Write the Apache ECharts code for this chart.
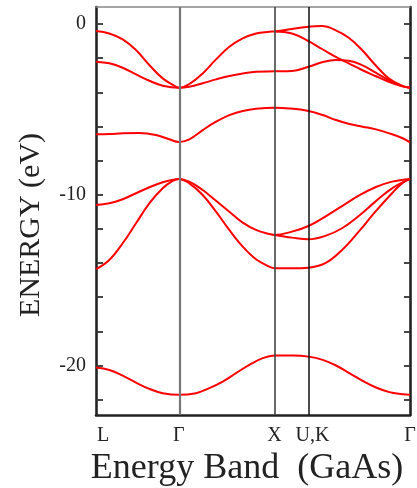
<!DOCTYPE html>
<html>
<head>
<meta charset="utf-8">
<script src="https://cdn.jsdelivr.net/npm/echarts@6.0.0/dist/echarts.min.js"></script>
<style>
html,body{margin:0;padding:0;background:#fff;}
#chart{width:417px;height:488px;}
</style>
</head>
<body>
<div id="chart"></div>
<script>
// k-path positions of high-symmetry points (L, Γ, X, U/K, Γ)
const kTicks = [0, 0.866, 1.866, 2.220, 3.281];
const kTickLabels = ['L', 'Γ', 'X', 'U,K', 'Γ'];
const kGuides = [0.866, 1.866, 2.220];

// energy axis
const yTickValues = [0, -2, -4, -6, -8, -10, -12, -14, -16, -18, -20, -22];
const yLabelValues = [0, -10, -20];

// bands: [k, energy eV]
const bandTopA = [[0,-0.41],[0.139,-0.55],[0.279,-0.90],[0.418,-1.52],[0.557,-2.40],[0.697,-3.18],[0.836,-3.67],[0.866,-3.73],
  [0.975,-3.51],[1.115,-2.89],[1.254,-2.07],[1.393,-1.33],[1.533,-0.84],[1.672,-0.55],[1.811,-0.45],[1.866,-0.43],
  [2.048,-0.29],[2.220,-0.15],[2.362,-0.12],[2.501,-0.35],[2.641,-0.80],[2.780,-1.52],[2.919,-2.40],[3.058,-3.18],[3.197,-3.61],[3.281,-3.73]];
const bandTopB = [[0,-2.20],[0.139,-2.30],[0.279,-2.56],[0.418,-2.95],[0.557,-3.32],[0.697,-3.61],[0.866,-3.73],
  [0.975,-3.67],[1.115,-3.47],[1.254,-3.24],[1.393,-3.04],[1.533,-2.89],[1.672,-2.79],[1.866,-2.77],
  [2.048,-2.75],[2.220,-2.50],[2.362,-2.24],[2.501,-2.11],[2.641,-2.15],[2.780,-2.40],[2.919,-2.83],[3.058,-3.28],[3.197,-3.62],[3.281,-3.73]];
const bandTopC = [[1.866,-0.43],[2.048,-0.55],[2.220,-1.00],[2.362,-1.46],[2.501,-1.91],[2.641,-2.30],[2.780,-2.69],[2.919,-3.04],[3.058,-3.38],[3.197,-3.65],[3.281,-3.73]];
const bandMid = [[0,-6.46],[0.139,-6.44],[0.279,-6.40],[0.452,-6.38],[0.627,-6.50],[0.766,-6.75],[0.866,-6.91],[0.975,-6.75],[1.115,-6.21],[1.254,-5.72],[1.393,-5.33],[1.533,-5.09],[1.672,-4.96],[1.866,-4.90],
  [2.020,-4.94],[2.220,-5.09],[2.369,-5.33],[2.508,-5.62],[2.647,-5.85],[2.787,-6.01],[2.926,-6.17],[3.065,-6.40],[3.205,-6.69],[3.281,-6.93]];
const bandLowA = [[0,-10.60],[0.139,-10.50],[0.279,-10.26],[0.418,-9.91],[0.557,-9.56],[0.697,-9.27],[0.801,-9.12],[0.866,-9.07],
  [0.975,-9.23],[1.115,-9.72],[1.254,-10.35],[1.393,-10.99],[1.533,-11.63],[1.672,-12.06],[1.811,-12.30],[1.866,-12.35],
  [2.048,-12.16],[2.220,-11.83],[2.396,-11.28],[2.571,-10.66],[2.745,-10.05],[2.919,-9.56],[3.093,-9.23],[3.281,-9.07]];
const bandLowB = [[1.866,-12.35],[2.048,-12.51],[2.220,-12.61],[2.396,-12.41],[2.571,-11.96],[2.745,-11.24],[2.919,-10.40],[3.093,-9.62],[3.281,-9.07]];
const bandLowC = [[0,-14.36],[0.139,-13.82],[0.279,-12.84],[0.418,-11.67],[0.557,-10.50],[0.697,-9.62],[0.801,-9.19],[0.866,-9.07],
  [0.975,-9.33],[1.115,-10.01],[1.254,-10.99],[1.393,-12.06],[1.533,-13.04],[1.672,-13.78],[1.811,-14.21],[1.866,-14.30],
  [2.048,-14.30],[2.220,-14.27],[2.396,-14.01],[2.571,-13.23],[2.745,-12.16],[2.919,-10.99],[3.093,-9.91],[3.197,-9.33],[3.281,-9.07]];
const bandBottom = [[0,-20.12],[0.139,-20.26],[0.279,-20.59],[0.418,-21.00],[0.557,-21.37],[0.697,-21.62],[0.866,-21.72],[1.045,-21.62],[1.184,-21.33],[1.324,-20.94],[1.463,-20.45],[1.602,-19.96],[1.742,-19.57],[1.866,-19.42],
  [2.055,-19.42],[2.220,-19.48],[2.369,-19.67],[2.508,-20.00],[2.647,-20.45],[2.787,-20.90],[2.926,-21.29],[3.065,-21.56],[3.205,-21.68],[3.281,-21.72]];

const bands = [bandTopA, bandTopB, bandTopC, bandMid, bandLowA, bandLowB, bandLowC, bandBottom];

const serif = 'Liberation Serif';
const chart = echarts.init(document.getElementById('chart'), null, {renderer: 'canvas'});

const bandSeries = bands.map(function (d, i) {
  return {
    type: 'line', name: 'band' + i, data: d, smooth: 0.4, symbol: 'none', z: 3,
    lineStyle: {color: '#ff0000', width: 2}, silent: true
  };
});

const guideStyles = [
  {color: '#777', width: 2.2},
  {color: '#444', width: 1.6},
  {color: '#111', width: 1.5}
];

const option = {
  animation: false,
  backgroundColor: '#fff',
  grid: {left: 96, right: 7, top: 7, bottom: 73, containLabel: false, outerBoundsMode: 'none'},
  xAxis: [{
    type: 'value', min: 0, max: kTicks[kTicks.length - 1], position: 'bottom',
    axisLine: {show: true, onZero: false, lineStyle: {color: '#222', width: 2.6}},
    axisTick: {show: false},
    splitLine: {show: false},
    axisLabel: {
      customValues: kTicks,
      margin: 11,
      fontFamily: serif, fontSize: 20, color: '#222',
      formatter: function (v) {
        for (let i = 0; i < kTicks.length; i++) {
          if (Math.abs(v - kTicks[i]) < 1e-6) {
            if (i === 0) return '{l|' + kTickLabels[i] + '}';
            if (i === 3) return '{u|' + kTickLabels[i] + '}';
            return kTickLabels[i];
          }
        }
        return '';
      },
      rich: {
        l: {fontFamily: serif, fontSize: 20, color: '#222', padding: [0, 0, 0, 14]},
        u: {fontFamily: serif, fontSize: 20, color: '#222', padding: [0, 0, 0, 8]}
      }
    },
    name: 'Energy Band  (GaAs)', nameLocation: 'middle', nameGap: 30,
    nameTextStyle: {fontFamily: serif, fontSize: 36, color: '#222', padding: [0, 12, 0, 0]}
  }, {
    type: 'value', min: 0, max: kTicks[kTicks.length - 1], position: 'top',
    axisLine: {show: true, onZero: false, lineStyle: {color: '#888', width: 1.5}},
    axisTick: {show: false}, axisLabel: {show: false}, splitLine: {show: false}
  }],
  yAxis: [{
    type: 'value', min: -22.9, max: 1.0, position: 'left',
    axisLine: {show: true, onZero: false, lineStyle: {color: '#222', width: 2.6}},
    axisTick: {show: true, inside: true, length: 7, customValues: yTickValues, lineStyle: {color: '#333', width: 1.8}},
    axisLabel: {customValues: yLabelValues, margin: 10, fontFamily: serif, fontSize: 20, color: '#222'},
    splitLine: {show: false},
    name: 'ENERGY (eV)', nameLocation: 'middle', nameGap: 50,
    nameTextStyle: {fontFamily: serif, fontSize: 30, color: '#222', padding: [0, 28, 0, 0]}
  }, {
    type: 'value', min: -22.9, max: 1.0, position: 'right',
    axisLine: {show: true, onZero: false, lineStyle: {color: '#222', width: 2.6}},
    axisTick: {show: true, inside: true, length: 6, customValues: yTickValues, lineStyle: {color: '#333', width: 1.8}},
    axisLabel: {show: false}, splitLine: {show: false}
  }],
  series: [{
    type: 'line', name: 'guides', data: [], z: 1, silent: true,
    markLine: {
      silent: true, symbol: ['none', 'none'], label: {show: false},
      data: kGuides.map(function (k, i) { return {xAxis: k, lineStyle: {color: guideStyles[i].color, width: guideStyles[i].width, type: 'solid'}}; })
    }
  }].concat(bandSeries)
};
chart.setOption(option);
</script>
</body>
</html>
